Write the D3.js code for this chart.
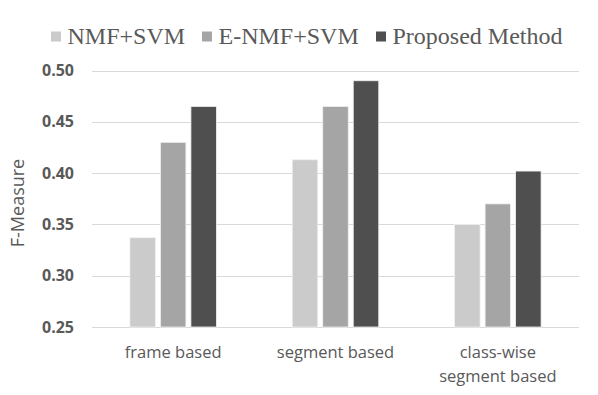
<!DOCTYPE html>
<meta charset="utf-8">
<head>
  <title>F-Measure comparison</title>
</head>
<style>
body { margin: 0; background: #fff; }
.grid line { stroke: #d9d9d9; stroke-width: 1; }
.ytick { font-family: "Open Sans", sans-serif; font-weight: bold; font-size: 16px; fill: #595959; }
.xlab { font-family: "Open Sans", sans-serif; font-size: 16.5px; fill: #595959; }
.legend text { font-family: "Liberation Serif", serif; font-size: 24px; fill: #595959; }
</style>
<body>
<svg width="598" height="395"></svg>
<script src="https://cdnjs.cloudflare.com/ajax/libs/d3/7.8.5/d3.min.js"></script>
<script>

// data
var categories = [["frame based"], ["segment based"], ["class-wise", "segment based"]];
var seriesNames = ["NMF+SVM", "E-NMF+SVM", "Proposed Method"];
var seriesColors = ["#cbcbcb", "#a5a5a5", "#4f4f4f"];
var nmfSvm = [0.337, 0.413, 0.350];
var enmfSvm = [0.430, 0.465, 0.370];
var proposed = [0.465, 0.490, 0.402];
var yTicks = [0.25, 0.30, 0.35, 0.40, 0.45, 0.50];

var values = [nmfSvm, enmfSvm, proposed];

var svg = d3.select("svg");
var plotLeft = 92, plotRight = 579, plotTop = 70.5, plotBottom = 327;

var x = d3.scaleBand()
    .domain(d3.range(categories.length))
    .range([plotLeft, plotRight]);

var y = d3.scaleLinear()
    .domain([0.25, 0.50])
    .range([plotBottom, plotTop]);

// gridlines
svg.append("g").attr("class", "grid")
  .selectAll("line")
  .data(yTicks)
  .enter().append("line")
    .attr("x1", plotLeft).attr("x2", plotRight)
    .attr("y1", d => Math.round(y(d)) + 0.5)
    .attr("y2", d => Math.round(y(d)) + 0.5);

// y tick labels
svg.append("g")
  .selectAll("text")
  .data(yTicks)
  .enter().append("text")
    .attr("class", "ytick")
    .attr("x", 74)
    .attr("y", d => y(d))
    .attr("dy", "0.35em")
    .attr("text-anchor", "end")
    .text(d => d3.format(".2f")(d));

// axis title
svg.append("text")
    .attr("class", "xlab")
    .attr("transform", "translate(18,203) rotate(-90)")
    .attr("text-anchor", "middle")
    .attr("dy", "0.35em")
    .style("font-size", "18px")
    .text("F-Measure");

// bars
var barW = 25.5, gap = 5;
var inner = d3.scaleBand().domain(d3.range(seriesNames.length))
    .range([-(3 * barW + 2 * gap) / 2, (3 * barW + 2 * gap) / 2])
    .paddingInner(gap / (barW + gap));

seriesNames.forEach(function(name, s) {
  svg.append("g")
    .selectAll("rect")
    .data(values[s])
    .enter().append("rect")
      .attr("x", (d, i) => x(i) + x.bandwidth() / 2 + inner(s))
      .attr("y", d => y(d))
      .attr("width", inner.bandwidth())
      .attr("height", d => plotBottom - y(d))
      .attr("fill", seriesColors[s])
      .attr("stroke", "#f0f0f0")
      .attr("stroke-width", 0.8);
});

// category labels
var xl = svg.append("g");
categories.forEach(function(lines, i) {
  var cx = x(i) + x.bandwidth() / 2;
  var t = xl.append("text")
      .attr("class", "xlab")
      .attr("text-anchor", "middle")
      .attr("x", cx)
      .attr("y", 358);
  lines.forEach(function(l, k) {
    t.append("tspan")
      .attr("x", cx)
      .attr("dy", k === 0 ? 0 : 24)
      .text(l);
  });
});

// legend
var legendX = [51, 202, 376];
var lg = svg.append("g").attr("class", "legend");
seriesNames.forEach(function(name, s) {
  lg.append("rect")
    .attr("x", legendX[s]).attr("y", 31.5)
    .attr("width", 10).attr("height", 10)
    .attr("fill", seriesColors[s]);
  lg.append("text")
    .attr("x", legendX[s] + 16.5)
    .attr("y", 44)
    .text(name);
});

</script>
</body>
</html>
